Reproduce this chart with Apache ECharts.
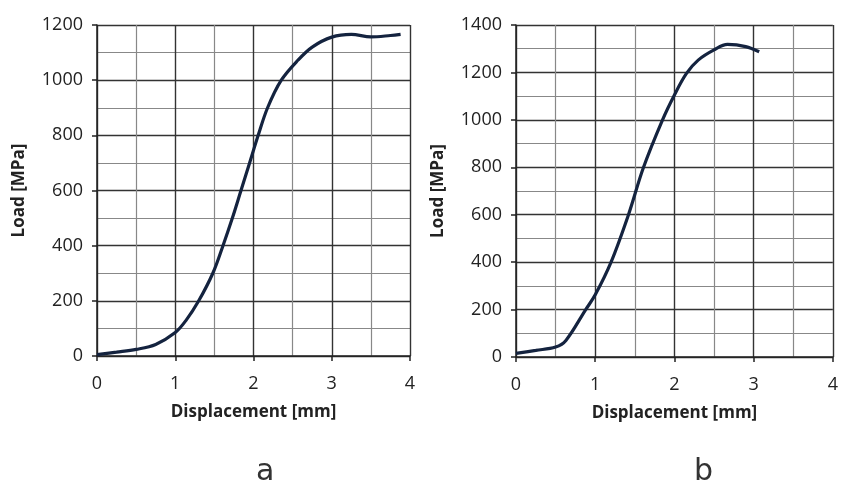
<!DOCTYPE html>
<html>
<head>
<meta charset="utf-8">
<script src="https://cdn.jsdelivr.net/npm/echarts@6/dist/echarts.min.js"></script>
<style>
  html, body { margin: 0; padding: 0; background: #fff; }
  #chart { width: 841px; height: 482px; }
</style>
</head>
<body>
<div id="chart"></div>
<script>
// a) 位移-载荷曲线
var dispA = [0, 0.25, 0.5, 0.75, 1, 1.14, 1.3, 1.48, 1.61, 1.73, 1.84, 1.95, 2.06, 2.18, 2.355, 2.57, 2.75, 3, 3.25, 3.5, 3.75, 3.88];
var loadA = [5, 14, 24, 42, 85, 130, 200, 300, 400, 500, 600, 700, 800, 900, 1000, 1073, 1120, 1156, 1166, 1157, 1162, 1166];
// b)
var dispB = [0, 0.25, 0.5, 0.63, 0.88, 1, 1.2, 1.42, 1.61, 1.85, 2, 2.15, 2.3, 2.5, 2.67, 2.9, 3.07];
var loadB = [15, 28, 42, 70, 200, 262, 400, 600, 800, 1000, 1105, 1195, 1252, 1295, 1318, 1309, 1287];

var xTicks = [0, 1, 2, 3, 4];
var panelNames = ["a", "b"];

function pairs(xs, ys) {
  return xs.map(function (x, i) { return [x, ys[i]]; });
}

var FONT = "Open Sans";
var dark = "#222";

function xAxisCfg(idx) {
  return {
    gridIndex: idx,
    type: "value",
    min: xTicks[0],
    max: xTicks[xTicks.length - 1],
    interval: 1,
    name: "Displacement [mm]",
    nameLocation: "middle",
    nameGap: 48,
    nameTextStyle: { fontFamily: FONT, fontWeight: "bold", fontSize: 17, color: dark },
    axisLine: { show: true, lineStyle: { color: dark, width: 1.5 } },
    axisTick: { show: true, length: 5, lineStyle: { color: dark, width: 1.5 } },
    axisLabel: { fontFamily: FONT, fontSize: 18, color: dark, margin: 19 },
    splitLine: { show: true, lineStyle: { color: "#333", width: 1.4 } },
    minorTick: { show: false, splitNumber: 2 },
    minorSplitLine: { show: true, lineStyle: { color: "#888", width: 1.2 } }
  };
}

function yAxisCfg(idx, max) {
  return {
    gridIndex: idx,
    type: "value",
    min: 0,
    max: max,
    interval: 200,
    name: "Load [MPa]",
    nameLocation: "middle",
    nameGap: 69,
    nameTextStyle: { fontFamily: FONT, fontWeight: "bold", fontSize: 17, color: dark },
    axisLine: { show: true, lineStyle: { color: dark, width: 1.5 } },
    axisTick: { show: true, length: 5, lineStyle: { color: dark, width: 1.5 } },
    axisLabel: {
      fontFamily: FONT, fontSize: 18, color: dark, margin: 14,
      formatter: function (v) { return String(v); }
    },
    splitLine: { show: true, lineStyle: { color: "#333", width: 1.4 } },
    minorTick: { show: false, splitNumber: 2 },
    minorSplitLine: { show: true, lineStyle: { color: "#888", width: 1.2 } }
  };
}

var chart = echarts.init(document.getElementById("chart"));
chart.setOption({
  animation: false,
  title: [
    { text: panelNames[0], left: 251, top: 452,
      textStyle: { fontFamily: "DejaVu Sans", fontWeight: "normal", fontSize: 30, color: "#333" } },
    { text: panelNames[1], left: 689, top: 452,
      textStyle: { fontFamily: "DejaVu Sans", fontWeight: "normal", fontSize: 30, color: "#333" } }
  ],
  grid: [
    { left: 97, right: 431, top: 25, bottom: 126 },
    { left: 516, right: 2, top: 25, bottom: 125 }
  ],
  xAxis: [xAxisCfg(0), xAxisCfg(1)],
  yAxis: [yAxisCfg(0, 1200), yAxisCfg(1, 1400)],
  series: [
    {
      type: "line", xAxisIndex: 0, yAxisIndex: 0,
      data: pairs(dispA, loadA), smooth: 0.35, showSymbol: false,
      lineStyle: { color: "#14233f", width: 3.2 }
    },
    {
      type: "line", xAxisIndex: 1, yAxisIndex: 1,
      data: pairs(dispB, loadB), smooth: 0.35, showSymbol: false,
      lineStyle: { color: "#14233f", width: 3.2 }
    }
  ]
});
</script>
</body>
</html>
